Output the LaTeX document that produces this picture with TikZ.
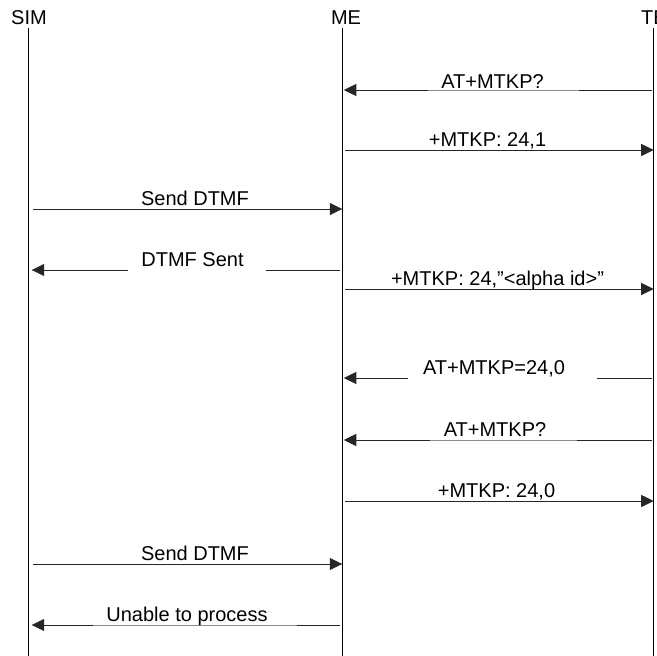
\documentclass[tikz,border=0pt]{standalone}
\usepackage{fontspec}
\setmainfont{Liberation Sans}
\usetikzlibrary{arrows.meta,calc}
\begin{document}
\begin{tikzpicture}[x=1pt,y=-1pt,
  actor/.style={font=\fontsize{20}{24}\selectfont, anchor=base, inner sep=0pt},
  lbl/.style={font=\fontsize{20}{24}\selectfont, anchor=base, inner sep=0pt},
  life/.style={line width=1.2pt, draw=black},
  msg/.style={line width=1pt, draw=black!85, -{Triangle[length=12.5pt,width=12pt]}},
  gapfill/.style={fill=white},
  thinline/.style={draw=black!45, line width=0.5pt}
]
\useasboundingbox (0,0) rectangle (657,656);
% actors
\node[actor] (sim) at (29,24) {SIM};
\node[actor] (me) at (346,24) {ME};
\node[actor, anchor=base west] (te) at (641,24) {TE};
\coordinate (simT) at (28.3,28);  \coordinate (simB) at (28.3,656);
\coordinate (meT)  at (342.3,28); \coordinate (meB)  at (342.3,656);
\coordinate (teT)  at (653.7,28); \coordinate (teB)  at (653.7,656);
\draw[life] (simT) -- (simB);
\draw[life] (meT) -- (meB);
\draw[life] (teT) -- (teB);
% rows
\coordinate (r1) at (0,90);
\coordinate (r2) at (0,150);
\coordinate (r3) at (0,209);
\coordinate (r4) at (0,270);
\coordinate (r5) at (0,289);
\coordinate (r6) at (0,378);
\coordinate (r7) at (0,440);
\coordinate (r8) at (0,501);
\coordinate (r9) at (0,564);
\coordinate (r10) at (0,625);
% 1
\draw[msg] ($(teT|-r1)+(-1.5,0)$) -- ($(meT|-r1)+(1.5,0)$);
\fill[gapfill] (428,86) rectangle (579,93);
\draw[thinline] (428,90) -- (579,90);
\node[lbl] (l1) at (492.5,88) {AT+MTKP?};
% 2
\draw[msg] ($(meT|-r2)+(2.7,0)$) -- (teT|-r2);
\node[lbl] (l2) at (487.5,146.5) {+MTKP: 24,1};
% 3
\draw[msg] ($(simT|-r3)+(4.5,0)$) -- (meT|-r3);
\node[lbl] (l3) at (195,205.5) {Send DTMF};
% 4
\draw[msg] ($(meT|-r4)+(-2.3,0)$) -- ($(simT|-r4)+(3.4,0)$);
\fill[gapfill] (128,265) rectangle (266,273);
\node[lbl] (l4) at (192.5,266.5) {DTMF Sent};
% 5
\draw[msg] ($(meT|-r5)+(2.7,0)$) -- (teT|-r5);
\node[lbl] (l5) at (497.5,285.5) {+MTKP: 24,”<alpha id>”};
% 6
\draw[msg] ($(teT|-r6)+(-1.5,0)$) -- ($(meT|-r6)+(1.5,0)$);
\fill[gapfill] (408,373) rectangle (597,381);
\node[lbl] (l6) at (494,374.5) {AT+MTKP=24,0};
% 7
\draw[msg] ($(teT|-r7)+(-1.5,0)$) -- ($(meT|-r7)+(1.5,0)$);
\fill[gapfill] (430,436) rectangle (577,443);
\draw[thinline] (430,440) -- (577,440);
\node[lbl] (l7) at (495,436.5) {AT+MTKP?};
% 8
\draw[msg] ($(meT|-r8)+(2.7,0)$) -- (teT|-r8);
\node[lbl] (l8) at (496.5,497.5) {+MTKP: 24,0};
% 9
\draw[msg] ($(simT|-r9)+(4.5,0)$) -- (meT|-r9);
\node[lbl] (l9) at (195,560.5) {Send DTMF};
% 10
\draw[msg] ($(meT|-r10)+(-2.3,0)$) -- ($(simT|-r10)+(3.4,0)$);
\fill[gapfill] (93,621) rectangle (297,623.5);
\draw[thinline] (93,625) -- (297,625);
\node[lbl] (l10) at (187,621) {Unable to process};
\end{tikzpicture}
\end{document}
